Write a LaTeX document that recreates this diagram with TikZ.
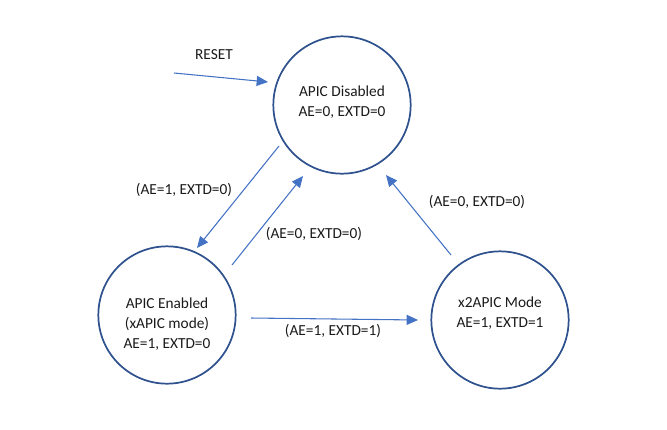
\documentclass[tikz,border=0pt]{standalone}
\usepackage{fontspec}
\setmainfont{Carlito}
\usetikzlibrary{arrows.meta}
\definecolor{circ}{HTML}{2F528F}
\definecolor{arr}{HTML}{4472C4}
\definecolor{txt}{HTML}{1A1A1A}
\begin{document}
\begin{tikzpicture}[x=0.75pt,y=-0.75pt,
  state/.style={draw=circ,line width=1.3pt,circle,minimum size=103pt,inner sep=0pt},
  lbl/.style={text=txt,font=\fontsize{11.5pt}{15pt}\selectfont,align=center,inner sep=0pt},
  conn/.style={draw=arr,line width=0.8pt,-{Triangle[length=8.5pt,width=7.5pt]}}]
\useasboundingbox (0,0) rectangle (667,429);
\node[state] (dis) at (342,105) {};
\node[state] (en) at (167,315) {};
\node[state] (x2) at (500,320) {};
\node[lbl] (tdis) at (342,102) {APIC Disabled\\AE=0, EXTD=0};
\node[lbl] (ten) at (167,324) {APIC Enabled\\(xAPIC mode)\\AE=1, EXTD=0};
\node[lbl] (tx2) at (500,313) {x2APIC Mode\\AE=1, EXTD=1};
\coordinate (rs) at (174,73);
\coordinate (re) at (268,82);
\node[lbl] (reset) at (214,55) {RESET};
\draw[conn] (rs) -- (re);
\coordinate (a1s) at (279,146);
\coordinate (a1e) at (197,248);
\draw[conn] (a1s) -- (a1e);
\node[lbl] (l1) at (184,190) {(AE=1, EXTD=0)};
\coordinate (a2s) at (232,265);
\coordinate (a2e) at (303,176);
\draw[conn] (a2s) -- (a2e);
\node[lbl] (l2) at (314,234) {(AE=0, EXTD=0)};
\coordinate (a3s) at (251,318);
\coordinate (a3e) at (418,320);
\draw[conn] (a3s) -- (a3e);
\node[lbl] (l3) at (333,331) {(AE=1, EXTD=1)};
\coordinate (a4s) at (451,255);
\coordinate (a4e) at (386,175);
\draw[conn] (a4s) -- (a4e);
\node[lbl] (l4) at (477,202) {(AE=0, EXTD=0)};
\end{tikzpicture}
\end{document}
